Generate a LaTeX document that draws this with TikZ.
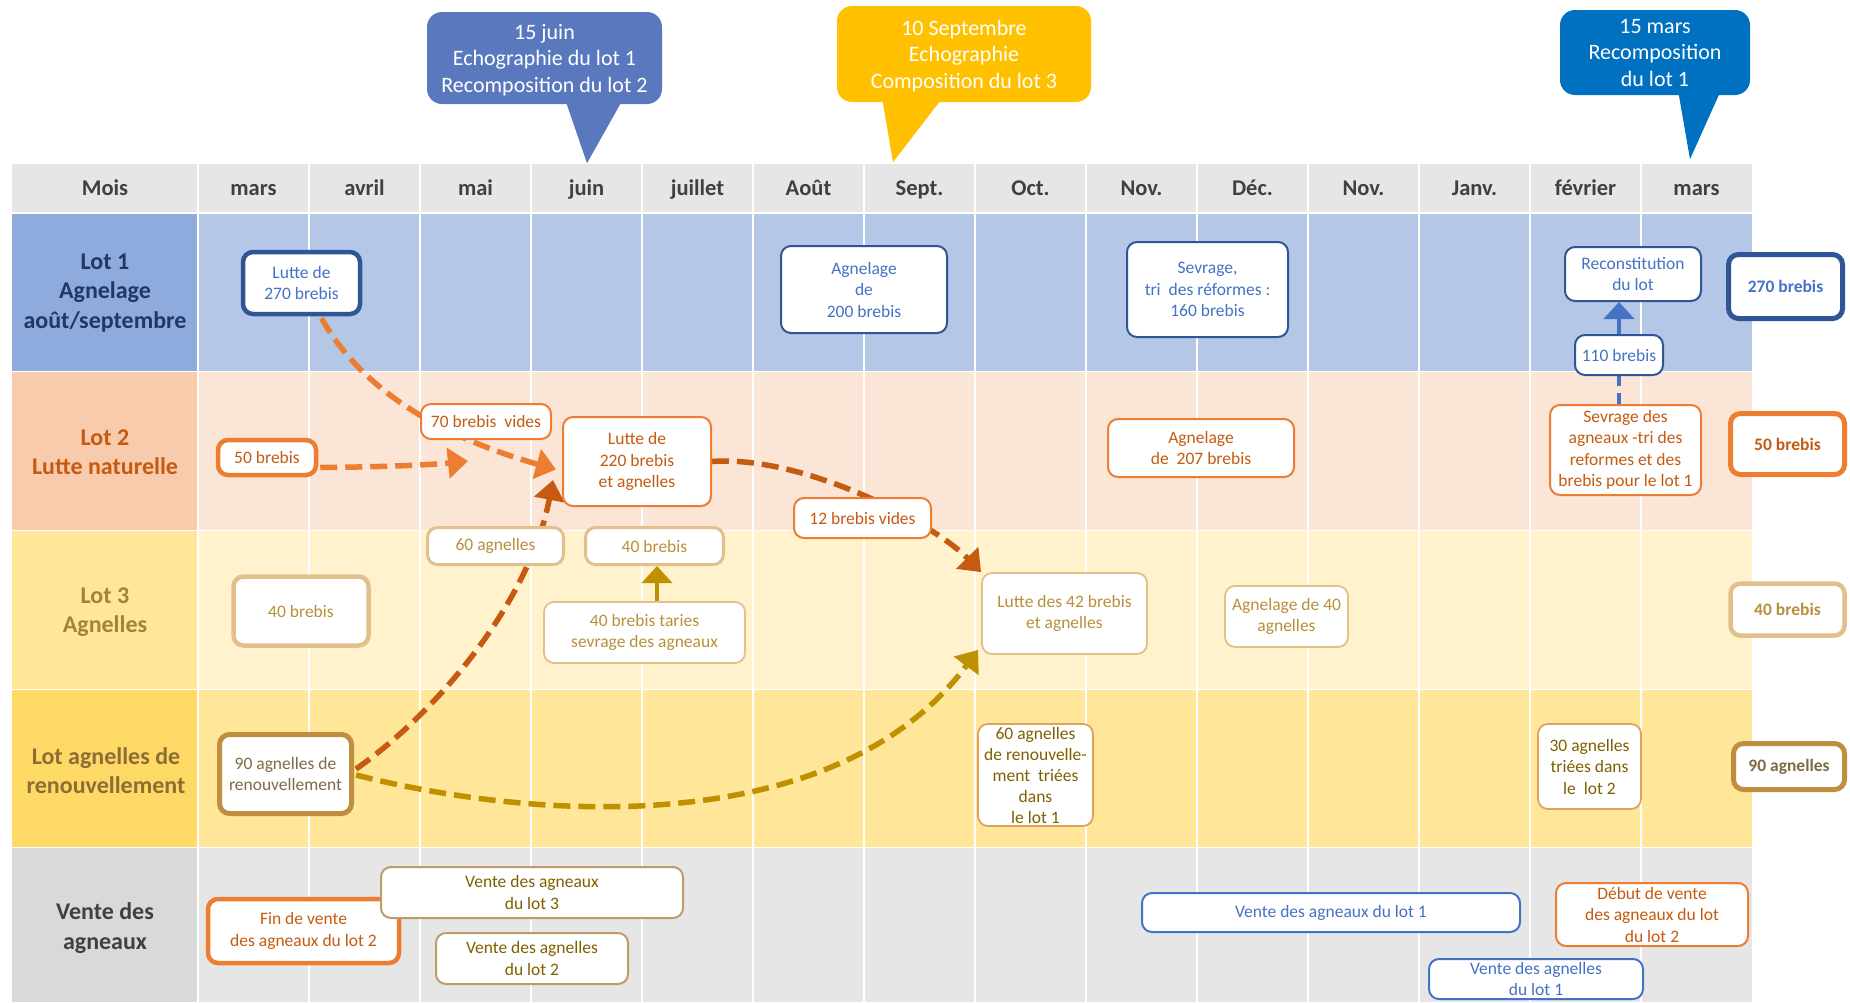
\documentclass[tikz,border=0pt]{standalone}
\usepackage{fontspec}
\setmainfont{Carlito}
\usetikzlibrary{arrows.meta,calc}
\pgfdeclarelayer{bg}
\pgfdeclarelayer{flows}
\pgfsetlayers{bg,flows,main}
\definecolor{hdrfill}{HTML}{E7E6E6}
\definecolor{labA}{HTML}{8FAADC}\definecolor{cellA}{HTML}{B4C7E7}
\definecolor{labB}{HTML}{F8CBAD}\definecolor{cellB}{HTML}{FBE5D6}
\definecolor{labC}{HTML}{FFE699}\definecolor{cellC}{HTML}{FFF2CC}
\definecolor{labD}{HTML}{FFD966}\definecolor{cellD}{HTML}{FFE699}
\definecolor{labE}{HTML}{D9D9D9}\definecolor{cellE}{HTML}{E7E6E6}
\definecolor{txHdr}{HTML}{404040}
\definecolor{txA}{HTML}{203864}
\definecolor{txB}{HTML}{C55A11}
\definecolor{txC}{HTML}{A5823A}
\definecolor{txD}{HTML}{8C6D33}
\definecolor{txE}{HTML}{404040}
\definecolor{blueB}{HTML}{2F5597}
\definecolor{blueT}{HTML}{4472C4}
\definecolor{orB}{HTML}{ED7D31}
\definecolor{orT}{HTML}{C55A11}
\definecolor{tanB}{HTML}{E2C08C}
\definecolor{tanT}{HTML}{B8903A}
\definecolor{goldB}{HTML}{BF8F3F}
\definecolor{goldT}{HTML}{7F6A45}
\definecolor{ltanB}{HTML}{DDA35E}
\definecolor{brT}{HTML}{7F6000}
\definecolor{brB}{HTML}{BF9B6B}
\definecolor{calA}{HTML}{5A78BE}
\definecolor{calB}{HTML}{FFC000}
\definecolor{calC}{HTML}{0070C0}
\definecolor{flowA}{HTML}{ED7D31}
\definecolor{flowC}{HTML}{C55A11}
\definecolor{flowE}{HTML}{BF9000}
\newcommand\BoxFont{\fontsize{17.5}{21.5}\selectfont}
\newcommand\CalFont{\fontsize{22}{26.5}\selectfont}
\newcommand\HdrFont{\fontsize{22.5}{27}\selectfont\bfseries}
\newcommand\LabFont{\fontsize{24}{29.5}\selectfont\bfseries}
\tikzset{
  bx/.style={draw, fill=white, rounded corners=10pt, align=center, inner sep=0pt, font=\BoxFont, line width=2pt},
  bluebox/.style={bx, draw=blueB, text=blueT},
  vbluebox/.style={bx, draw=blueT, text=blueT},
  orbox/.style={bx, draw=orB, text=orT},
  tanbox/.style={bx, draw=tanB, text=tanT, line width=1.8pt},
  goldbox/.style={bx, draw=goldB, text=goldT},
  ltanbox/.style={bx, draw=ltanB, text=brT, line width=1.8pt},
  brbox/.style={bx, draw=brB, text=brT},
  calbox/.style={rounded corners=15pt, align=center, inner sep=0pt, text=white, font=\CalFont},
  hdrtext/.style={font=\HdrFont, text=txHdr, anchor=base, inner sep=0pt},
  rowlab/.style={font=\LabFont, align=center},
  flow/.style={line width=5.5pt, dash pattern=on 17pt off 8pt, -{Triangle[length=20pt,width=30pt]}},
  sarrow/.style={line width=4.5pt, -{Triangle[length=17pt,width=30pt]}},
}
\begin{document}
\begin{tikzpicture}[x=1pt,y=-1pt]
\useasboundingbox (0,0) rectangle (1850,1002);
% ---------- table background ----------
\begin{pgfonlayer}{bg}
\fill[white] (0,0) rectangle (1850,1002);
\fill[hdrfill] (12,164) rectangle (1752,211.5);
\fill[labA] (12,213.5) rectangle (198,370.5);
\fill[cellA] (198,213.5) rectangle (1752,370.5);
\fill[labB] (12,372) rectangle (198,529.5);
\fill[cellB] (198,372) rectangle (1752,529.5);
\fill[labC] (12,531) rectangle (198,688.5);
\fill[cellC] (198,531) rectangle (1752,688.5);
\fill[labD] (12,690) rectangle (198,846.5);
\fill[cellD] (198,690) rectangle (1752,846.5);
\fill[labE] (12,848) rectangle (198,1002);
\fill[cellE] (198,848) rectangle (1752,1002);
\foreach \k in {0,...,13} \draw[white, line width=2.5pt] ({198+111*\k},164) -- ({198+111*\k},1002);
\end{pgfonlayer}
% ---------- header ----------
\node[hdrtext] (h0) at (105,195) {Mois};
\foreach \m [count=\i] in {mars,avril,mai,juin,juillet,Août,Sept.,Oct.,Nov.,Déc.,Nov.,Janv.,février,mars}
  \node[hdrtext] (h\i) at ({198+111*\i-55.5},195) {\m};
% ---------- row labels ----------
\node[rowlab, text=txA] (labA) at (105,293) {Lot 1\\Agnelage\\août/septembre};
\node[rowlab, text=txB] (labB) at (105,452) {Lot 2\\Lutte naturelle};
\node[rowlab, text=txC] (labC) at (105,612) {Lot 3\\Agnelles};
\node[rowlab, text=txD] (labD) at (106,770.5) {Lot agnelles de\\renouvellement};
\node[rowlab, text=txE] (labE) at (105,928) {Vente des\\agneaux};
% ---------- callouts ----------
\node[calbox, fill=calA, minimum width=235pt, minimum height=92pt] (C1) at (544.5,58) {\strut 15 juin\\Echographie du lot 1\\Recomposition du lot 2};
\fill[calA] ($(C1.south)+(20.5,-5)$) -- ($(C1.south)+(42.5,59)$) -- ($(C1.south)+(78.5,-5)$) -- cycle;
\node[calbox, fill=calB, minimum width=254pt, minimum height=96pt] (C2) at (964,54) {\strut 10 Septembre\\Echographie\\Composition du lot 3};
\fill[calB] ($(C2.south)+(-82,-5)$) -- ($(C2.south)+(-71,60)$) -- ($(C2.south)+(-21,-5)$) -- cycle;
\node[calbox, fill=calC, minimum width=190pt, minimum height=85pt] (C3) at (1655,52.5) {15 mars\\Recomposition\\du lot 1};
\fill[calC] ($(C3.south)+(23,-5)$) -- ($(C3.south)+(35,64)$) -- ($(C3.south)+(66,-5)$) -- cycle;
% ---------- Lot 1 ----------
\node[bluebox, line width=4.5pt, minimum width=117pt, minimum height=62pt] (L1a) at (301.5,283) {Lutte de\\270 brebis};
\node[bluebox, minimum width=166pt, minimum height=87pt] (L1b) at (864,289.5) {Agnelage\\de\\200 brebis};
\node[bluebox, minimum width=161pt, minimum height=95pt] (L1c) at (1207.5,289.5) {Sevrage,\\tri\ \ des réformes :\\160 brebis};
\node[bluebox, minimum width=136pt, minimum height=54pt] (L1d) at (1633,274) {Reconstitution\\du lot};
\node[bluebox, line width=5pt, minimum width=114pt, minimum height=64pt, font=\BoxFont\bfseries] (L1e) at (1785.5,286.5) {270 brebis};
\node[bluebox, minimum width=88pt, minimum height=40pt] (L1f) at (1619,355) {110 brebis};
% ---------- Lot 2 ----------
\node[orbox, line width=4.5pt, minimum width=98pt, minimum height=35pt] (L2a) at (267,457.5) {50 brebis};
\node[orbox, minimum width=130pt, minimum height=35pt] (L2b) at (486,421.5) {70 brebis\ \ vides};
\node[orbox, minimum width=148pt, minimum height=89pt] (L2c) at (637,461.5) {Lutte de\\220 brebis\\et agnelles};
\node[orbox, minimum width=137pt, minimum height=40pt] (L2d) at (862.5,518) {12 brebis vides};
\node[orbox, minimum width=186pt, minimum height=58pt] (L2e) at (1201,448) {Agnelage\\de\ \ 207 brebis};
\node[orbox, minimum width=151pt, minimum height=90pt] (L2f) at (1625.5,450) {Sevrage des\\agneaux -tri des\\reformes et des\\brebis pour le lot 1};
\node[orbox, line width=5pt, minimum width=114pt, minimum height=61pt, font=\BoxFont\bfseries] (L2g) at (1787.5,444) {50 brebis};
% ---------- Lot 3 ----------
\node[tanbox, line width=3pt, minimum width=136pt, minimum height=37pt] (L3a) at (495.5,546) {60 agnelles};
\node[tanbox, line width=3pt, minimum width=138pt, minimum height=37pt] (L3b) at (654.5,546) {40 brebis};
\node[tanbox, line width=4.5pt, minimum width=135pt, minimum height=69pt] (L3c) at (301,611) {40 brebis};
\node[tanbox, minimum width=201pt, minimum height=61pt] (L3d) at (644.5,632.5) {40 brebis taries\\sevrage des agneaux};
\node[tanbox, minimum width=165pt, minimum height=81pt] (L3e) at (1064.5,613.5) {Lutte des 42 brebis\\et agnelles};
\node[tanbox, minimum width=123pt, minimum height=61pt] (L3f) at (1286.5,616.5) {Agnelage de 40\\agnelles};
\node[tanbox, line width=4.5pt, minimum width=114pt, minimum height=52pt, font=\BoxFont\bfseries] (L3g) at (1787.5,609.5) {40 brebis};
% ---------- Lot agnelles de renouvellement ----------
\node[goldbox, line width=5pt, minimum width=132pt, minimum height=79pt] (R1) at (285.5,774) {90 agnelles de\\renouvellement};
\node[ltanbox, minimum width=115pt, minimum height=102pt, font=\fontsize{17.5}{21}\selectfont] (R2) at (1035.5,775) {60 agnelles\\de renouvelle-\\ment\ \ triées\\dans\\le lot 1};
\node[ltanbox, minimum width=103pt, minimum height=85pt] (R3) at (1589.5,766.5) {30 agnelles\\triées dans\\le\ \ lot 2};
\node[goldbox, line width=5pt, minimum width=111pt, minimum height=46pt, font=\BoxFont\bfseries] (R4) at (1789,766.5) {90 agnelles};
% ---------- Vente ----------
\node[orbox, line width=4.5pt, minimum width=191pt, minimum height=64pt] (V1) at (303.5,931) {Fin de vente\\des agneaux du lot 2};
\node[brbox, minimum width=302pt, minimum height=51pt] (V2) at (532,892.5) {Vente des agneaux\\du lot 3};
\node[brbox, minimum width=192pt, minimum height=51pt] (V3) at (532,958.5) {Vente des agnelles\\du lot 2};
\node[vbluebox, minimum width=378pt, minimum height=39pt] (V4) at (1331,912.5) {Vente des agneaux du lot 1};
\node[orbox, minimum width=192pt, minimum height=63pt] (V5) at (1652,914.5) {Début de vente\\des agneaux du lot\\du lot 2};
\node[vbluebox, minimum width=214pt, minimum height=40pt] (V6) at (1536,979) {Vente des agnelles\\du lot 1};
% ---------- connectors ----------
\coordinate (jB) at (468,461);
\begin{pgfonlayer}{flows}
\draw[flow, draw=flowA] ($(L1a.south)+(20,2)$) .. controls (370,405) and (470,445) .. ($(L2c.west)+(-6,8)$);
\draw[flow, draw=flowA] ($(L2a.east)+(2,10)$) .. controls (380,467) and (430,465) .. (jB);
\draw[flow, draw=flowC] ($(R1.east)+(2,-5)$) .. controls (440,710) and (530,600) .. ($(L2c.south west)+(-9,-27)$);
\draw[flow, draw=flowC] (L2c.east) .. controls (800,455) and (930,520) .. (L3e.north west);
\draw[flow, draw=flowE] ($(R1.east)+(2,1)$) .. controls (554,825) and (841,834) .. ($(L3e.south west)+(-3,-5)$);
\draw[blueT, line width=4pt, dash pattern=on 11pt off 7pt] (L1f.south |- L2f.north) -- (L1f.south);
\end{pgfonlayer}
\draw[sarrow, draw=blueT] (L1f.north) -- (L1f.north |- L1d.south);
\draw[sarrow, draw=flowE] ($(L3d.north)+(12.5,0)$) -- ($(L3b.south)+(2.5,0)$);
\end{tikzpicture}
\end{document}
